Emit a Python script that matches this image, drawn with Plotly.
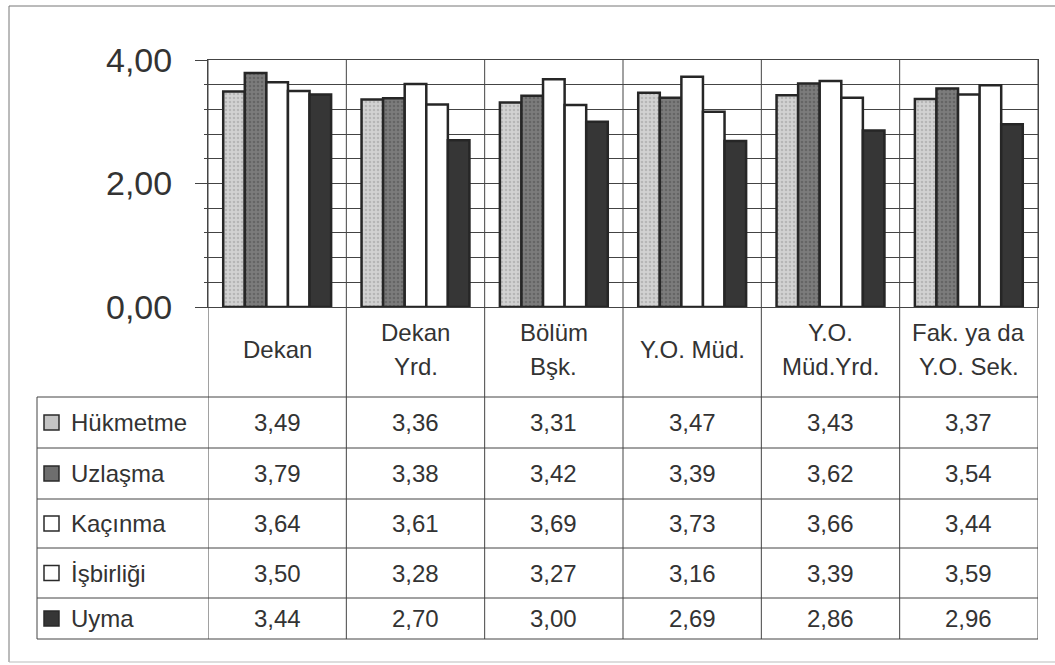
import plotly.graph_objects as go

W, H = 1055, 665

categories = ["Dekan", "Dekan<br>Yrd.", "Bölüm<br>Bşk.", "Y.O. Müd.", "Y.O.<br>Müd.Yrd.", "Fak. ya da<br>Y.O. Sek."]
series_names = ["Hükmetme", "Uzlaşma", "Kaçınma", "İşbirliği", "Uyma"]
hukmetme = [3.49, 3.36, 3.31, 3.47, 3.43, 3.37]
uzlasma = [3.79, 3.38, 3.42, 3.39, 3.62, 3.54]
kacinma = [3.64, 3.61, 3.69, 3.73, 3.66, 3.44]
isbirligi = [3.50, 3.28, 3.27, 3.16, 3.39, 3.59]
uyma = [3.44, 2.70, 3.00, 2.69, 2.86, 2.96]
series_values = [hukmetme, uzlasma, kacinma, isbirligi, uyma]
y_tickvals = [0, 2, 4]
y_ticktext = ["0,00", "2,00", "4,00"]

fills = ["#d2d2d2", "#7c7c7c", "#ffffff", "#ffffff", "#363636"]
dots = ["#9a9a9a", "#4e4e4e", None, None, None]
key_fills = ["#c4c4c4", "#6e6e6e", "#ffffff", "#ffffff", "#363636"]

FONT = "Liberation Sans, Arial, sans-serif"
TXT = "#333333"
LINE = "#444444"
FS = 24

def px(x):
    return x / W

def py(y):
    return 1 - y / H

PL, PR, PT, PB = 208, 1038, 60, 307
TL = 37
row_edges = [397, 448, 499, 548, 598, 639]

xidx = list(range(len(categories)))

fig = go.Figure()
for i, (name, vals) in enumerate(zip(series_names, series_values)):
    marker = dict(color=fills[i], line=dict(color="#262626", width=2.5))
    if dots[i]:
        marker["pattern"] = dict(shape=".", fgcolor=dots[i], bgcolor=fills[i], size=4, solidity=0.35)
    fig.add_trace(go.Bar(x=xidx, y=vals, name=name, marker=marker, showlegend=False))

shapes = []
annotations = []

for k in range(len(categories) + 1):
    xb = k - 0.5
    shapes.append(dict(type="line", xref="x", yref="paper", x0=xb, x1=xb,
                       y0=py(row_edges[-1]), y1=py(PT), line=dict(color=LINE, width=1), layer="below"))
shapes.append(dict(type="line", xref="paper", yref="paper", x0=px(TL), x1=px(TL),
                   y0=py(row_edges[-1]), y1=py(row_edges[0]), line=dict(color=LINE, width=1)))
for ye in row_edges:
    shapes.append(dict(type="line", xref="paper", yref="paper", x0=px(TL), x1=px(PR),
                       y0=py(ye), y1=py(ye), line=dict(color=LINE, width=1)))
shapes.append(dict(type="line", xref="paper", yref="paper", x0=px(9), x1=px(1055), y0=py(6), y1=py(6),
                   line=dict(color="#777777", width=1)))
shapes.append(dict(type="line", xref="paper", yref="paper", x0=px(9), x1=px(9), y0=py(6), y1=py(662),
                   line=dict(color="#777777", width=1)))
shapes.append(dict(type="line", xref="paper", yref="paper", x0=px(9), x1=px(1055), y0=py(662), y1=py(662),
                   line=dict(color="#bbbbbb", width=1)))

header_mid = (PB + row_edges[0]) / 2 - 3
for i, cat in enumerate(categories):
    lines = cat.split("<br>")
    n = len(lines)
    for j, ln in enumerate(lines):
        yc = header_mid + (j - (n - 1) / 2) * 34
        annotations.append(dict(x=i, xref="x", y=py(yc), yref="paper", text=ln, showarrow=False,
                                font=dict(family=FONT, size=FS, color=TXT), xanchor="center", yanchor="middle"))

for r, (name, vals) in enumerate(zip(series_names, series_values)):
    yc = (row_edges[r] + row_edges[r + 1]) / 2
    shapes.append(dict(type="rect", xref="paper", yref="paper", x0=px(44), x1=px(59),
                       y0=py(yc + 7.5), y1=py(yc - 7.5), fillcolor=key_fills[r],
                       line=dict(color="#2a2a2a", width=1.5)))
    annotations.append(dict(x=px(69), xref="paper", y=py(yc), yref="paper", text=name, showarrow=False,
                            font=dict(family=FONT, size=FS, color=TXT), xanchor="left", yanchor="middle"))
    for i, v in enumerate(vals):
        annotations.append(dict(x=i, xref="x", y=py(yc), yref="paper", text=f"{v:.2f}".replace(".", ","),
                                showarrow=False, font=dict(family=FONT, size=FS, color=TXT),
                                xanchor="center", yanchor="middle"))

fig.update_layout(
    width=W, height=H, margin=dict(l=0, r=0, t=0, b=0, pad=0, autoexpand=False),
    paper_bgcolor="white", plot_bgcolor="white",
    barmode="group", bargap=0.22, bargroupgap=0,
    xaxis=dict(domain=[px(PL), px(PR)], range=[-0.5, len(categories) - 0.5], showticklabels=False,
               showgrid=False, zeroline=False, showline=True, mirror=True, linecolor=LINE, linewidth=1,
               ticks="", automargin=False),
    yaxis=dict(domain=[py(PB), py(PT)], range=[0, 4], tickvals=y_tickvals, ticktext=y_ticktext,
               ticks="outside", ticklen=12, tickcolor=LINE, tickwidth=1,
               tickfont=dict(family=FONT, size=34, color=TXT), ticklabelstandoff=16,
               showgrid=True, gridcolor=LINE, gridwidth=1,
               minor=dict(dtick=0.4, showgrid=True, gridcolor=LINE, gridwidth=1, ticks="outside", ticklen=3,
                          tickcolor=LINE),
               zeroline=False, showline=True, mirror=True, linecolor=LINE, linewidth=1, automargin=False),
    shapes=shapes, annotations=annotations,
    font=dict(family=FONT, color=TXT),
)

fig.write_html("out.html")
